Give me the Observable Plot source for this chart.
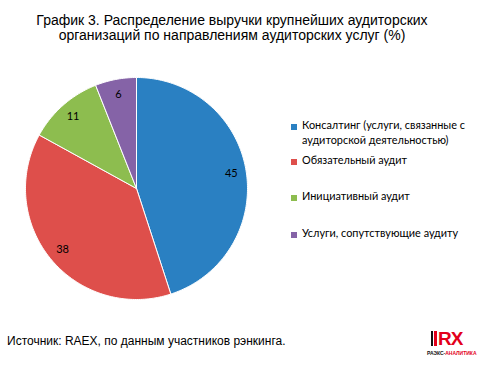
<!DOCTYPE html>
<html><head><meta charset="utf-8">
<script src="https://cdn.jsdelivr.net/npm/d3@7"></script>
<script src="https://cdn.jsdelivr.net/npm/@observablehq/plot@0.6"></script>
<style>
body{margin:0;background:#fff;}
#wrap{position:relative;width:485px;height:367px;overflow:hidden;font-family:"Liberation Sans",Arial,sans-serif;}
#title{position:absolute;left:0;top:13px;width:464px;text-align:center;font-size:14px;line-height:14.5px;color:#000;}
#legend{position:absolute;left:291px;top:0;font-family:Lato,"Open Sans",sans-serif;font-size:10.9px;color:#000;}
.li{position:absolute;left:0;white-space:nowrap;line-height:15px;}
.sw{position:absolute;left:0;top:4px;width:6px;height:6px;}
.tx{position:absolute;left:11px;top:-3px;}
#src{position:absolute;left:7px;top:334px;font-size:12px;color:#000;white-space:nowrap;}
#logo{position:absolute;left:427px;top:328px;width:52px;height:32px;}
#plot{position:absolute;left:0;top:0;}
</style></head>
<body><div id="wrap">
<div id="plot"></div>
<div id="title">График 3. Распределение выручки крупнейших аудиторских<br>организаций по направлениям аудиторских услуг (%)</div>
<div id="legend"></div>
<div id="src">Источник: RAEX, по данным участников рэнкинга.</div>
<div id="logo">
  <div style="position:absolute;left:4px;top:3px;width:2px;height:15px;background:#111"></div>
  <div style="position:absolute;left:7px;top:3px;width:3px;height:15px;background:#e3001b"></div>
  <div style="position:absolute;left:11px;top:1px;font:bold 19px/19px 'Liberation Sans',Arial,sans-serif;color:#e3001b;letter-spacing:-1px;">RX</div>
  <div style="position:absolute;left:0;top:22px;font:bold 5px/6px 'Liberation Sans',Arial,sans-serif;white-space:nowrap;"><span style="color:#111">РАЭКС-</span><span style="color:#e3001b">АНАЛИТИКА</span></div>
</div>
</div>
<script>
const categories = [
  "Консалтинг (услуги, связанные с аудиторской деятельностью)",
  "Обязательный аудит",
  "Инициативный  аудит",
  "Услуги, сопутствующие аудиту"
];
const legendLabels = [
  ["Консалтинг (услуги, связанные с", "аудиторской деятельностью)"],
  ["Обязательный аудит"],
  ["Инициативный  аудит"],
  ["Услуги, сопутствующие аудиту"]
];
const values = [45, 38, 11, 6];
const colors = ["#2a80c2", "#de4f4b", "#8dbd4f", "#8563a7"];

const W = 485, H = 367, cx = 136, cy = 188, R = 111, LR = 96;
const data = categories.map((c, i) => ({category: c, value: values[i]}));
const arcs = d3.pie().sort(null).value(d => d.value).startAngle(0).endAngle(2 * Math.PI)(data);

const pts = [];
arcs.forEach(a => {
  const c = a.data.category;
  pts.push({category: c, x: cx, y: cy});
  const n = Math.max(2, Math.ceil((a.endAngle - a.startAngle) / (Math.PI / 180)));
  for (let k = 0; k <= n; k++) {
    const t = a.startAngle + (a.endAngle - a.startAngle) * k / n;
    pts.push({category: c, x: cx + R * Math.sin(t), y: cy - R * Math.cos(t)});
  }
  pts.push({category: c, x: cx, y: cy});
});
const labels = arcs.map(a => {
  const m = (a.startAngle + a.endAngle) / 2;
  return {value: a.data.value, x: cx + LR * Math.sin(m), y: cy - LR * Math.cos(m)};
});

const chart = Plot.plot({
  width: W, height: H, margin: 0,
  x: {domain: [0, W], axis: null},
  y: {domain: [0, H], reverse: true, axis: null},
  color: {domain: categories, range: colors},
  marks: [
    Plot.line(pts, {x: "x", y: "y", z: "category", fill: "category", stroke: "#fff", strokeWidth: 1, curve: "linear-closed"}),
    Plot.text(labels, {x: "x", y: "y", text: d => String(d.value), fill: "#000", fontSize: 11, fontFamily: "Lato, 'Open Sans', sans-serif"})
  ]
});
document.getElementById("plot").appendChild(chart);

const legendY = [127, 162, 198, 235];
const lg = document.getElementById("legend");
legendLabels.forEach((lines, i) => {
  const d = document.createElement("div");
  d.className = "li";
  d.style.top = (legendY[i] - 7) + "px";
  d.innerHTML = `<div class="sw" style="background:${colors[i]}"></div><div class="tx">${lines.join("<br>")}</div>`;
  lg.appendChild(d);
});
</script>
</body></html>
